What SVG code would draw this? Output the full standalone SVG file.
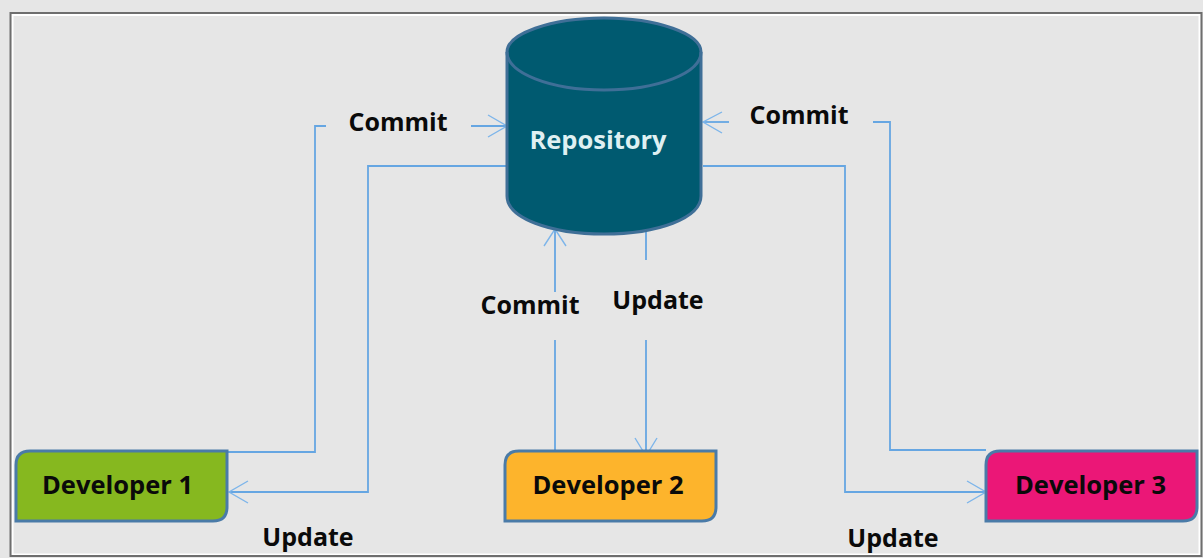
<svg xmlns="http://www.w3.org/2000/svg" width="1203" height="558" viewBox="0 0 1203 558">
<style>
.t{font-family:"Open Sans","Noto Sans","Liberation Sans",sans-serif;font-weight:700;font-size:25px;fill:#0a0a0a;text-anchor:middle}
.d{font-size:25.500px}
.dev{stroke:#4a7ba8;stroke-width:3}
.c{fill:none;stroke:#66a6e2;stroke-width:1.800}
.a{fill:none;stroke:#7db5ea;stroke-width:1.400}
</style>
<rect width="1203" height="558" fill="#e6e6e6"/>
<rect x="12.500" y="15" width="1187" height="539.500" fill="#e6e6e6" stroke="#fff" stroke-width="2"/>
<rect x="10.500" y="13" width="1191" height="543" fill="none" stroke="#6e6e6e" stroke-width="2"/>
<g id="connectors">
<path class="c" d="M228 452H315V126H326"/>
<path class="c" d="M471 126H505"/>
<path class="a" d="M488 115L507 126L488 137"/>
<path class="c" d="M506 166H368V492H230"/>
<path class="a" d="M248 481L229 492L248 503"/>
<path class="c" d="M555 450V340"/>
<path class="c" d="M555 292V231"/>
<path class="a" d="M544 246L555 229L566 246"/>
<path class="c" d="M646 228V260"/>
<path class="c" d="M646 340V455"/>
<path class="a" d="M635 438L646 456L657 438"/>
<path class="c" d="M703 166H845V492H984"/>
<path class="a" d="M967 481L986 492L967 503"/>
<path class="c" d="M986 450H890V122H873"/>
<path class="c" d="M729 122H704"/>
<path class="a" d="M722 112L703 122L722 133"/>
</g>
<g id="repository">
<path d="M507 52C507 34 550 18 604 18C658 18 701 34 701 52V196C701 218 658 234 604 234C550 234 507 218 507 196Z" fill="#005a70" stroke="#3f6f97" stroke-width="3"/>
<path d="M507 52C507 73 550 90 604 90C658 90 701 73 701 52" fill="none" stroke="#3f6f97" stroke-width="3"/>
<text x="598" y="149" class="t d" style="fill:#dff0f2">Repository</text>
</g>
<g id="developer-1">
<path class="dev" d="M16 521V465Q16 451 30 451H227V507Q227 521 213 521Z" fill="#86b81f"/>
<text x="117.500" y="494" class="t d">Developer 1</text>
</g>
<g id="developer-2">
<path class="dev" d="M505 521V465Q505 451 519 451H716V507Q716 521 702 521Z" fill="#fdb42c"/>
<text x="608" y="494" class="t d">Developer 2</text>
</g>
<g id="developer-3">
<path class="dev" d="M986 521V465Q986 451 1000 451H1197V507Q1197 521 1183 521Z" fill="#eb1777"/>
<text x="1090.500" y="494" class="t d">Developer 3</text>
</g>
<g id="labels">
<text x="398" y="131" class="t">Commit</text>
<text x="799" y="124" class="t">Commit</text>
<text x="530" y="314" class="t">Commit</text>
<text x="658" y="309" class="t">Update</text>
<text x="308" y="546" class="t">Update</text>
<text x="893" y="547" class="t">Update</text>
</g>
</svg>
